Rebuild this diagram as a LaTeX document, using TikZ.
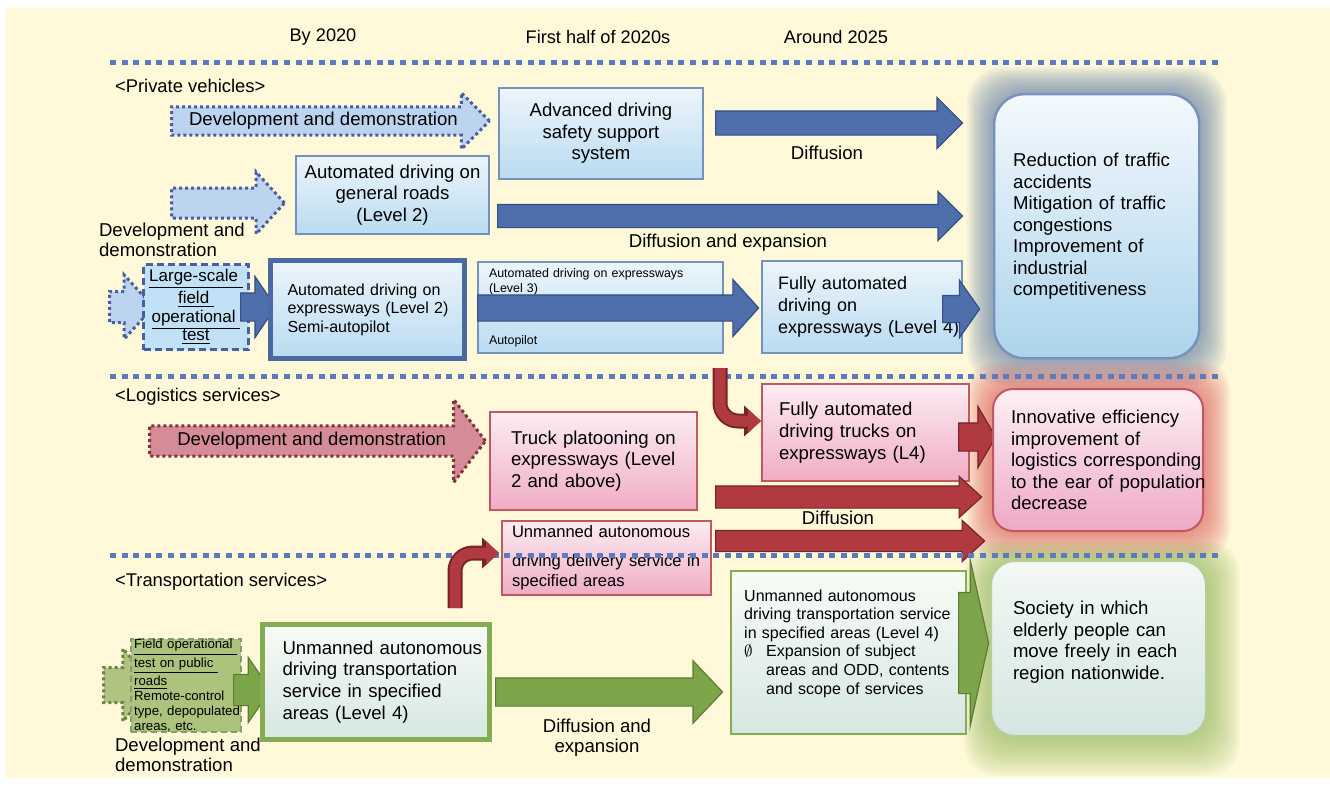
\documentclass[tikz,border=0pt]{standalone}
\usepackage{fontspec}
\setmainfont{Liberation Sans}
\usetikzlibrary{shapes.arrows, arrows.meta, positioning, calc, backgrounds}

\definecolor{bgyellow}{RGB}{255,249,218}
\definecolor{sepblue}{RGB}{92,122,190}
\definecolor{arrblue}{RGB}{78,110,172}
\definecolor{arrblueD}{RGB}{52,78,135}
\definecolor{boxblueT}{RGB}{236,245,251}
\definecolor{boxblueB}{RGB}{186,219,241}
\definecolor{boxblueD}{RGB}{118,146,188}
\definecolor{lvltwoD}{RGB}{76,106,162}
\definecolor{devblue}{RGB}{188,212,240}
\definecolor{dotblue}{RGB}{72,96,160}
\definecolor{fotblue}{RGB}{192,225,246}
\definecolor{arrred}{RGB}{176,58,64}
\definecolor{arrredD}{RGB}{118,34,40}
\definecolor{pinkT}{RGB}{252,236,243}
\definecolor{pinkB}{RGB}{240,172,198}
\definecolor{pinkD}{RGB}{192,88,98}
\definecolor{devred}{RGB}{214,140,150}
\definecolor{dotred}{RGB}{125,52,58}
\definecolor{arrgreen}{RGB}{124,165,74}
\definecolor{arrgreenD}{RGB}{92,124,54}
\definecolor{greenT}{RGB}{248,251,246}
\definecolor{greenB}{RGB}{214,231,226}
\definecolor{greenD}{RGB}{132,172,82}
\definecolor{devgreen}{RGB}{174,196,128}
\definecolor{dotgreen}{RGB}{108,130,78}
\definecolor{fotgreen}{RGB}{172,195,125}
\definecolor{glowblue}{RGB}{92,120,165}
\definecolor{glowred}{RGB}{222,92,92}
\definecolor{glowgreen}{RGB}{146,184,88}
\definecolor{goalblueT}{RGB}{244,249,253}
\definecolor{goalblueB}{RGB}{172,212,236}
\definecolor{goalredT}{RGB}{253,240,246}
\definecolor{goalredB}{RGB}{238,168,197}
\definecolor{goalgreenT}{RGB}{243,248,243}
\definecolor{goalgreenB}{RGB}{212,230,226}

\tikzset{
  hdtxt/.style={font=\fontsize{9.1}{11}\selectfont},
  sectxt/.style={font=\fontsize{9.2}{11}\selectfont, anchor=west},
  lbl/.style={font=\fontsize{9.3}{10}\selectfont},
  anybox/.style={inner sep=0pt, anchor=north west, font=\fontsize{9.3}{10.75}\selectfont},
  bluebox/.style={anybox, draw=boxblueD, line width=1pt, top color=boxblueT, bottom color=boxblueB},
  pinkbox/.style={anybox, draw=pinkD, line width=1pt, top color=pinkT, bottom color=pinkB},
  greenbox/.style={anybox, draw=greenD, line width=1pt, top color=greenT, bottom color=greenB},
  blk/.style={single arrow, inner xsep=0pt, anchor=tail, line width=0.6pt},
  bluearr/.style={blk, draw=arrblueD, fill=arrblue},
  redarr/.style={blk, draw=arrredD, fill=arrred},
  greenarr/.style={blk, draw=arrgreenD, fill=arrgreen},
  devarr/.style={blk, line width=1.5pt, dash pattern=on 1.5pt off 1.5pt},
  bentout/.style={line width=7.5pt, draw=arrredD, rounded corners=9pt, -{Triangle[width=15pt,length=8.5pt]}},
  bentin/.style={line width=5.5pt, draw=arrred, rounded corners=9pt, -{Triangle[width=11.5pt,length=6.5pt]}},
  sepline/.style={draw=sepblue, line width=2.5pt, dash pattern=on 3pt off 2.8pt},
}

\begin{document}
\begin{tikzpicture}[x=0.5pt, y=-0.5pt]
  \useasboundingbox (0,0) rectangle (1330,787);
  \begin{scope}[on background layer]
    \fill[bgyellow] (6,8) rectangle (1330,778);
  \end{scope}

  % Time axis
  \node[hdtxt] (hdA) at (323,37) {By 2020};
  \node[hdtxt] (hdB) at (598,37) {First half of 2020s};
  \node[hdtxt] (hdC) at (836,37) {Around 2025};

  % Section titles
  \node[sectxt] (secPV) at (108,86) {<Private vehicles>};
  \node[sectxt] (secLS) at (108,397) {<Logistics services>};
  \node[sectxt] (secTS) at (108,582) {<Transportation services>};

  % Private vehicles: first row
  \node[devarr, lbl, draw=dotblue, fill=devblue, inner ysep=2pt, minimum height=159pt, minimum width=26.5pt, single arrow head extend=7pt] (devPVa) at (170,121) {Development and demonstration};
  \node[bluebox, minimum width=102pt, minimum height=45.5pt, align=center] (advSys) at (498,87) {Advanced driving\\safety support\\system};
  \node[bluearr, inner ysep=5.75pt, minimum height=123.5pt, minimum width=25pt, single arrow head extend=6.75pt] (diffA) at (715,123) {};
  \node[lbl] (diffLblA) at (827,153) {Diffusion};

  % Private vehicles: second row
  \node[devarr, draw=dotblue, fill=devblue, inner ysep=6.75pt, minimum height=56.5pt, minimum width=29.5pt, single arrow head extend=8pt, single arrow tip angle=95] (devPVb) at (170,203) {};
  \node[lbl, anchor=west, align=left] (devLblA) at (92,240) {Development and\\demonstration};
  \node[bluebox, minimum width=96.5pt, minimum height=39pt, align=center] (genRoad) at (295,155) {Automated driving on\\general roads\\(Level 2)};
  \node[bluearr, inner ysep=5.5pt, minimum height=232.5pt, minimum width=24pt, single arrow head extend=6.5pt] (diffB) at (497,216) {};
  \node[lbl] (diffLblB) at (728,243) {Diffusion and expansion};

  % Private vehicles: expressways
  \node[devarr, draw=dotblue, fill=devblue, inner ysep=7pt, minimum height=22pt, minimum width=30.5pt, single arrow head extend=8.25pt, single arrow tip angle=95] (devPVc) at (108,307) {};
  \node[anybox, draw=dotblue, line width=1.5pt, dash pattern=on 3.5pt off 2pt, fill=fotblue, minimum width=52.5pt, minimum height=42.5pt, align=center, font=\fontsize{8.5}{9.3}\selectfont] (fotPV) at (142,263) {\underline{Large-scale }\\\underline{field }\\\underline{operational }\\\underline{test}};
  \node[bluearr, inner ysep=6.75pt, minimum height=17.5pt, minimum width=30pt, single arrow head extend=8.25pt, single arrow tip angle=112] (arFot) at (240,307) {};
  \node[bluebox, draw=lvltwoD, line width=2.5pt, minimum width=97pt, minimum height=49pt, text width=80pt, align=left, font=\fontsize{8}{9.25}\selectfont] (exLvlTwo) at (268,258) {Automated driving on\\\mbox{expressways (Level 2)}\\Semi-autopilot};
  \node[bluebox, minimum width=122.5pt, minimum height=45.5pt, text width=111.5pt, align=left, font=\fontsize{6.2}{7.4}\selectfont] (exLvlThree) at (477,261) {Automated driving on expressways\\(Level 3)\\[18.5pt]Autopilot};
  \node[bluearr, inner ysep=6.25pt, minimum height=140.5pt, minimum width=28pt, single arrow head extend=7.75pt, single arrow tip angle=96] (arLvlThree) at (477,308) {};
  \node[bluebox, minimum width=100pt, minimum height=46pt, text width=84pt, align=left, font=\fontsize{9}{10.9}\selectfont] (exLvlFour) at (761,260) {Fully automated\\driving on\\\mbox{expressways (Level 4)}};
  \node[bluearr, inner ysep=6.5pt, minimum height=18.5pt, minimum width=28pt, single arrow head extend=7.5pt, single arrow tip angle=110] (arLvlFour) at (942,309) {};
  \node[anybox, rounded corners=15pt, draw=boxblueD, line width=1.2pt, top color=goalblueT, bottom color=goalblueB, minimum width=102.5pt, minimum height=132pt, text width=83.5pt, align=left] (goalPV) at (993,93) {Reduction of traffic\\accidents\\Mitigation of traffic\\congestions\\Improvement of\\industrial\\competitiveness};

  % Logistics services
  \node[devarr, lbl, draw=dotred, fill=devred, inner ysep=2.45pt, minimum height=168pt, minimum width=40pt, single arrow head extend=13.25pt, single arrow tip angle=105] (devLS) at (148,441) {Development and demonstration};
  \node[pinkbox, minimum width=103.5pt, minimum height=49pt, text width=82.5pt, align=left] (truckPlt) at (489,411) {\mbox{Truck platooning on}\\\mbox{expressways (Level}\\2 and above)};
  \node[pinkbox, minimum width=103.5pt, minimum height=48.5pt, text width=86.5pt, align=left, font=\fontsize{9.3}{11}\selectfont] (trucksLFour) at (761,383) {Fully automated\\driving trucks on\\expressways (L4)};
  \node[redarr, inner ysep=6.75pt, minimum height=18.5pt, minimum width=30pt, single arrow head extend=8.25pt, single arrow tip angle=120] (arTrucks) at (958,437) {};
  \node[redarr, inner ysep=5.25pt, minimum height=133pt, minimum width=20pt, single arrow head extend=4.75pt, single arrow tip angle=85] (diffC) at (715,497) {};
  \node[redarr, inner ysep=5pt, minimum height=134.5pt, minimum width=20pt, single arrow head extend=5pt, single arrow tip angle=85] (diffD) at (715,541) {};
  \node[lbl] (diffLblC) at (838,518) {Diffusion};
  \node[pinkbox, minimum width=104.5pt, minimum height=37pt, text width=94.5pt, align=left, font=\fontsize{8.3}{10}\selectfont] (deliv) at (501,520) {Unmanned autonomous\\[4.5pt]\mbox{driving delivery service in}\\specified areas};
  \node[anybox, rounded corners=10pt, draw=pinkD, line width=1pt, top color=goalredT, bottom color=goalredB, minimum width=105pt, minimum height=71pt, text width=87pt, align=left] (goalLS) at (992,388) {Innovative efficiency\\improvement of\\\mbox{logistics corresponding}\\\mbox{to the ear of population}\\decrease};

  % Transportation services
  \node[devarr, draw=dotgreen, fill=devgreen, inner ysep=8pt, minimum height=25pt, minimum width=35pt, single arrow head extend=9.5pt, single arrow tip angle=100] (devTS) at (102,685) {};
  \node[anybox, draw=dotgreen!80, line width=1.2pt, dash pattern=on 3pt off 2pt, fill=fotgreen, minimum width=55pt, minimum height=43.5pt, text width=52pt, align=left, font=\fontsize{6.6}{7.5}\selectfont] (fotTS) at (130,638) {\underline{Field operational }\\\underline{test on public }\\\underline{roads}\\Remote-control\\\mbox{type, depopulated}\\areas, etc.};
  \node[greenarr, inner ysep=7.5pt, minimum height=18.5pt, minimum width=32pt, single arrow head extend=8.5pt, single arrow tip angle=111] (arFotTS) at (233,690) {};
  \node[lbl, anchor=west, align=left] (devLblB) at (108,755) {Development and\\demonstration};
  \node[greenbox, line width=2.5pt, minimum width=113.5pt, minimum height=57.5pt, text width=93.5pt, align=left, font=\fontsize{9.3}{10.85}\selectfont] (transBox) at (260,622) {\mbox{Unmanned autonomous}\\\mbox{driving transportation}\\\mbox{service in specified}\\areas (Level 4)};
  \node[greenarr, inner ysep=6.75pt, minimum height=113.5pt, minimum width=30.5pt, single arrow head extend=8.5pt, single arrow tip angle=93] (diffE) at (495,692) {};
  \node[lbl, align=center] (diffLblE) at (597,738) {Diffusion and\\expansion};
  \node[greenbox, line width=1.2pt, minimum width=117.5pt, minimum height=81.5pt, text width=104.5pt, align=left, font=\fontsize{8}{9.3}\selectfont] (transBoxB) at (730,570) {Unmanned autonomous\\driving transportation service\\in specified areas (Level 4)\\\makebox[11pt][l]{$\emptyset$}Expansion of subject\\\hspace*{11pt}\mbox{areas and ODD, contents}\\\hspace*{11pt}and scope of services\\[1.6pt]\mbox{}};
  \node[greenarr, inner ysep=25pt, minimum height=15pt, minimum width=82.5pt, single arrow head extend=16.25pt, single arrow tip angle=155] (arTrans) at (958,643) {};
  \node[anybox, rounded corners=12pt, draw=greenD!60, line width=1pt, top color=goalgreenT, bottom color=goalgreenB, minimum width=107.5pt, minimum height=87.5pt, text width=85.5pt, align=left] (goalTS) at (990,560) {Society in which\\elderly people can\\move freely in each\\region nationwide.\\[-2.75pt]\mbox{}};

  % Glow round the goals
  \begin{scope}[on background layer]
    \foreach \g in {1,...,13} {
      \fill[glowblue, opacity=0.065, rounded corners=18pt] ($(goalPV.north west)+(-2*\g,-2*\g)$) rectangle ($(goalPV.south east)+(2*\g,2*\g)$);
      \fill[glowred, opacity=0.07, rounded corners=14pt] ($(goalLS.north west)+(-2*\g,-2*\g)$) rectangle ($(goalLS.south east)+(2*\g,2*\g)$);
      \fill[glowgreen, opacity=0.07, rounded corners=16pt] ($(goalTS.north west)+(-2*\g,-1.5*\g)$) rectangle ($(goalTS.south east)+(2.5*\g,3*\g)$);
    }
  \end{scope}

  % Dotted separators
  \draw[sepline] (110,62) -- (1220,62);
  \draw[sepline] (110,376) -- (1220,376);
  \draw[sepline] (110,555) -- (1220,555);

  % Bent arrows
  \coordinate (rbOne) at (720,368);
  \draw[bentout] (rbOne) |- ($(trucksLFour.north west)+(0,38)$);
  \draw[bentin] (rbOne) |- ($(trucksLFour.north west)+(0,38)$);
  \coordinate (rbTwo) at (455,608);
  \draw[bentout] (rbTwo) |- ($(deliv.north west)+(-2,33)$);
  \draw[bentin] (rbTwo) |- ($(deliv.north west)+(-2,33)$);
\end{tikzpicture}
\end{document}
